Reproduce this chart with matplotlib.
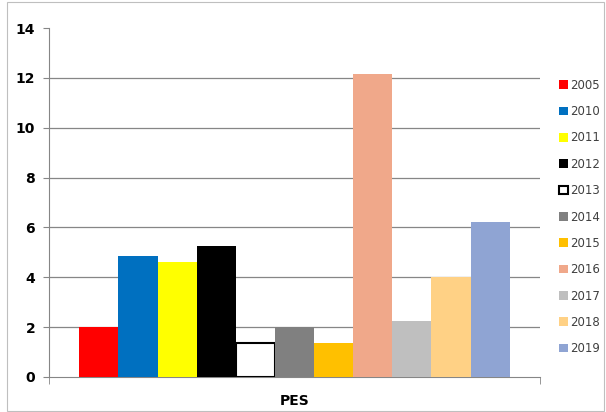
import numpy as np
import matplotlib
matplotlib.use("Agg")
import matplotlib.pyplot as plt
from matplotlib.patches import Rectangle

# data
category = "PES"
years = ["2005", "2010", "2011", "2012", "2013", "2014",
         "2015", "2016", "2017", "2018", "2019"]
values = [2.0, 4.85, 4.6, 5.25, 1.35, 2.0, 1.35, 12.15, 2.25, 4.0, 6.2]
colors = ["#FF0000", "#0070C0", "#FFFF00", "#000000", "#FFFFFF", "#808080",
          "#FFC000", "#F0A88A", "#BFBFBF", "#FFD185", "#8FA4D3"]
edges = ["none", "none", "none", "none", "#000000", "none",
         "none", "none", "none", "none", "none"]

fig = plt.figure(figsize=(6.06, 4.12), dpi=100)
ax = fig.add_axes([0.081, 0.085, 0.81, 0.847])

# outer chart frame
fig.patches.append(Rectangle((0.011, 0.003), 0.985, 0.993, transform=fig.transFigure,
                             fill=False, edgecolor="#BFBFBF", linewidth=0.8))

n = len(years)
w = 0.0797
x0 = -w * (n - 1) / 2
for i in range(n):
    ax.bar(x0 + i * w, values[i], width=w, color=colors[i],
           edgecolor=edges[i], linewidth=1.5 if edges[i] != "none" else 0,
           label=years[i], zorder=3)

ax.set_xlim(-0.5, 0.5)
ax.set_ylim(0, 14)
ax.set_yticks(np.arange(0, 15, 2))
ax.yaxis.grid(True, color="#868686", linewidth=0.9, zorder=0)
gl = ax.get_ygridlines()
gl[0].set_visible(False)
gl[-1].set_visible(False)
for sp in ["top", "right"]:
    ax.spines[sp].set_visible(False)
ax.spines["left"].set_color("#868686")
ax.spines["bottom"].set_color("#868686")
ax.tick_params(axis="y", length=4, color="#868686", labelsize=10, pad=6)
for t in ax.get_yticklabels():
    t.set_fontweight("bold")

ax.set_xticks([0])
ax.set_xticklabels([category], fontweight="bold", fontsize=10)
ax.tick_params(axis="x", which="major", length=0, pad=12)
ax.set_xticks([-0.5, 0.5], minor=True)
ax.tick_params(axis="x", which="minor", length=5, color="#868686")

leg = ax.legend(loc="upper left", bbox_to_anchor=(1.03, 0.868), frameon=False,
                fontsize=8.5, handlelength=0.75, handleheight=0.75,
                handletextpad=0.2, labelspacing=1.13, borderaxespad=0)
for t in leg.get_texts():
    t.set_color("#404040")

fig.savefig("out.png", dpi=100)
